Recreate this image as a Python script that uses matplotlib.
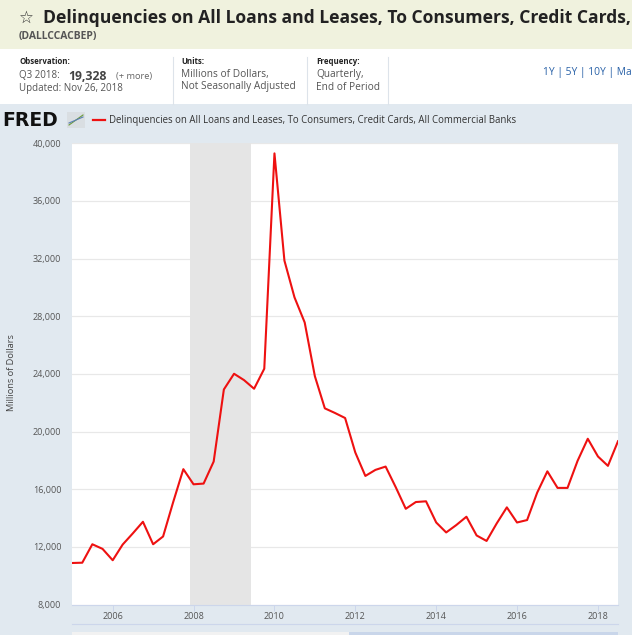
import matplotlib
matplotlib.use("Agg")
import matplotlib.pyplot as plt
from matplotlib.patches import Rectangle
from matplotlib.lines import Line2D
from matplotlib.ticker import FuncFormatter
import pandas as pd

# ---- data (Millions of Dollars, quarterly, 2005Q1 .. 2018Q3) ----
start_date = "2005-01-01"
values = [
    10880, 10900, 12180, 11860,   # 2005
    11070, 12160, 12930, 13740,   # 2006
    12180, 12720, 15100, 17390,   # 2007
    16340, 16390, 17920, 22920,   # 2008
    24010, 23570, 22970, 24360,   # 2009
    39300, 31860, 29310, 27570,   # 2010
    23840, 21610, 21290, 20940,   # 2011
    18550, 16920, 17340, 17570,   # 2012
    16130, 14640, 15110, 15160,   # 2013
    13690, 13000, 13510, 14090,   # 2014
    12790, 12410, 13620, 14740,   # 2015
    13690, 13860, 15760, 17240,   # 2016
    16090, 16090, 17970, 19500,   # 2017
    18270, 17620, 19328,          # 2018
]
dates = pd.date_range(start_date, periods=len(values), freq="QS")
recession = ("2007-12-01", "2009-06-01")
year_ticks = [2006, 2008, 2010, 2012, 2014, 2016, 2018]
y_ticks = [8000, 12000, 16000, 20000, 24000, 28000, 32000, 36000, 40000]

W, H = 632, 635
FONT = "Open Sans"
plt.rcParams["font.family"] = [FONT, "DejaVu Sans"]

fig = plt.figure(figsize=(W / 100, H / 100), dpi=100)
fig.patch.set_facecolor("white")


def fx(x):
    return x / W


def fy(y):
    return 1 - y / H


def T(x, y, s, **kw):
    kw.setdefault("va", "center")
    return fig.text(fx(x), fy(y), s, **kw)


def R(x0, y0, x1, y1, color, z=-5):
    fig.patches.append(Rectangle((fx(x0), fy(y1)), fx(x1) - fx(x0), fy(y0) - fy(y1),
                                 transform=fig.transFigure, facecolor=color,
                                 edgecolor="none", zorder=z))


def L(x0, y0, x1, y1, color, lw=1.0):
    fig.add_artist(Line2D([fx(x0), fx(x1)], [fy(y0), fy(y1)], transform=fig.transFigure,
                          color=color, lw=lw, zorder=2))


# ---- header band ----
R(0, 0, W, 49, "#f0f2de")
T(19, 18, "\u2606", fontsize=12, color="#333333", family=["DejaVu Sans"])
T(43, 18, "Delinquencies on All Loans and Leases, To Consumers, Credit Cards,",
  fontsize=12.6, fontweight="bold", color="#222222")
T(19, 36, "(DALLCCACBEP)", fontsize=7.5, fontweight="bold", color="#555555")

# ---- info block ----
T(19, 62, "Observation:", fontsize=5.7, fontweight="bold", color="#222222")
T(19, 76, "Q3 2018: ", fontsize=7.0, color="#555555")
T(68, 76, "19,328", fontsize=8.8, fontweight="bold", color="#444444")
T(116, 76, "(+ more)", fontsize=6.7, color="#666666")
T(19, 89, "Updated: Nov 26, 2018", fontsize=7.0, color="#555555")

T(181, 62, "Units:", fontsize=5.7, fontweight="bold", color="#222222")
T(181, 74, "Millions of Dollars,", fontsize=7.3, color="#555555")
T(181, 87, "Not Seasonally Adjusted", fontsize=7.3, color="#555555")

T(316, 62, "Frequency:", fontsize=5.7, fontweight="bold", color="#222222")
T(316, 74, "Quarterly,", fontsize=7.3, color="#555555")
T(316, 87, "End of Period", fontsize=7.3, color="#555555")

for xs in (172.5, 306.5, 388):
    L(xs, 57, xs, 104, "#dde3ea", lw=0.8)

T(543, 72, "1Y | 5Y | 10Y | Ma", fontsize=7.4, color="#2a62a8")

# ---- chart container background ----
R(0, 104, W, H, "#e1e9f0")

# FRED logo + legend
T(2, 120, "FRED", fontsize=13.5, fontweight="heavy", color="#111111",
  family=["DejaVu Sans"])
R(67, 112, 85, 128, "#d9dee2", z=1)
L(69, 125, 83, 115, "#6a9a3a", lw=0.8)
L(69, 123, 83, 117, "#5a7fb5", lw=0.8)
L(93, 120, 105, 120, "#ee1111", lw=1.6)
T(109, 120, "Delinquencies on All Loans and Leases, To Consumers, Credit Cards, All Commercial Banks",
  fontsize=6.9, color="#333333")

# y-axis title
T(12, 373, "Millions of Dollars", fontsize=6.7, color="#444444", rotation=90, ha="center")

# ---- plot ----
left, right, top, bottom = 72.3, 618.0, 143.3, 604.5
ax = fig.add_axes([fx(left), fy(bottom), fx(right) - fx(left), fy(top) - fy(bottom)])
ax.set_facecolor("white")
ax.axvspan(pd.Timestamp(recession[0]), pd.Timestamp(recession[1]), color="#e5e5e5", lw=0, zorder=1)
ax.plot(dates, values, color="#ee1111", lw=1.5, zorder=3)

ax.set_xlim(dates[0], dates[-1])
ax.set_ylim(y_ticks[0], y_ticks[-1])
ax.set_yticks(y_ticks)
ax.yaxis.set_major_formatter(FuncFormatter(lambda v, p: f"{int(v):,}"))
ax.set_xticks([pd.Timestamp(f"{y}-01-01") for y in year_ticks])
ax.set_xticklabels([str(y) for y in year_ticks])
ax.grid(axis="y", color="#e8e8e8", lw=0.9, zorder=0)
ax.set_axisbelow(True)
for s in ("top", "right", "left"):
    ax.spines[s].set_visible(False)
ax.spines["bottom"].set_color("#ccd6eb")
ax.spines["bottom"].set_linewidth(0.8)
ax.tick_params(axis="y", length=0, pad=8, labelsize=6.5, labelcolor="#555555")
ax.tick_params(axis="x", length=4.5, width=0.7, color="#ccd6eb", pad=1.0, labelsize=6.5,
               labelcolor="#555555")

# navigator strip below the plot
L(left, 624, right, 624, "#ccd6eb", lw=0.8)
R(left, 632, 349, H, "#f2f2f2", z=1)
R(349, 632, right, H, "#c9d6ea", z=1)

fig.savefig("out.png", dpi=100, facecolor=fig.get_facecolor())
